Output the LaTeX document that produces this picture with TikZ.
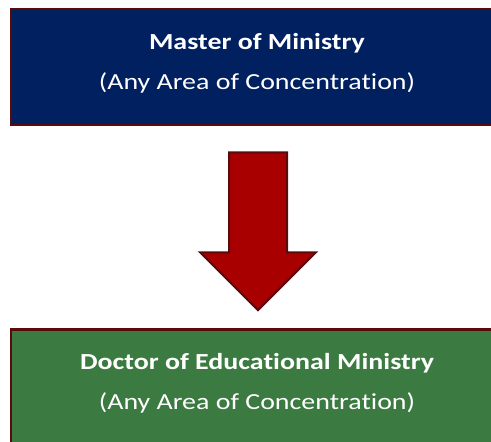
\documentclass[tikz,border=0pt]{standalone}
\usepackage{fontspec}
\setmainfont{Carlito}[FakeStretch=1.215,Ligatures=NoCommon]
\definecolor{navy}{HTML}{002060}
\definecolor{edge}{HTML}{5A0A0A}
\definecolor{arrowred}{HTML}{A80000}
\definecolor{leaf}{HTML}{3B7A40}
\begin{document}
\begin{tikzpicture}[x=1pt,y=1pt,
    box/.style={draw=edge,line width=2.5pt,shape=rectangle,minimum width=492pt,minimum height=116pt,align=center,text=white,font=\fontsize{23}{40}\selectfont}]
        \useasboundingbox (0,0) rectangle (491,-442);
        \draw (257,-67) node (M) [box,fill=navy] {\textbf{Master of Ministry}\\(Any Area of Concentration)\rule[-12pt]{0pt}{0pt}};
        \draw (M.south)++(0,-261.25) node (D) [box,fill=leaf] {\textbf{Doctor of Educational Ministry}\\(Any Area of Concentration)\rule[-12pt]{0pt}{0pt}};
        \draw[line width=2pt,draw=edge,fill=arrowred] (M.south)++(-28,-26) -- ++(58,0) -- ++(0,-100) -- ++(29,0) -- ++(-58,-58) -- ++(-58,58) -- ++(29,0) -- cycle;
    \end{tikzpicture}
\end{document}
